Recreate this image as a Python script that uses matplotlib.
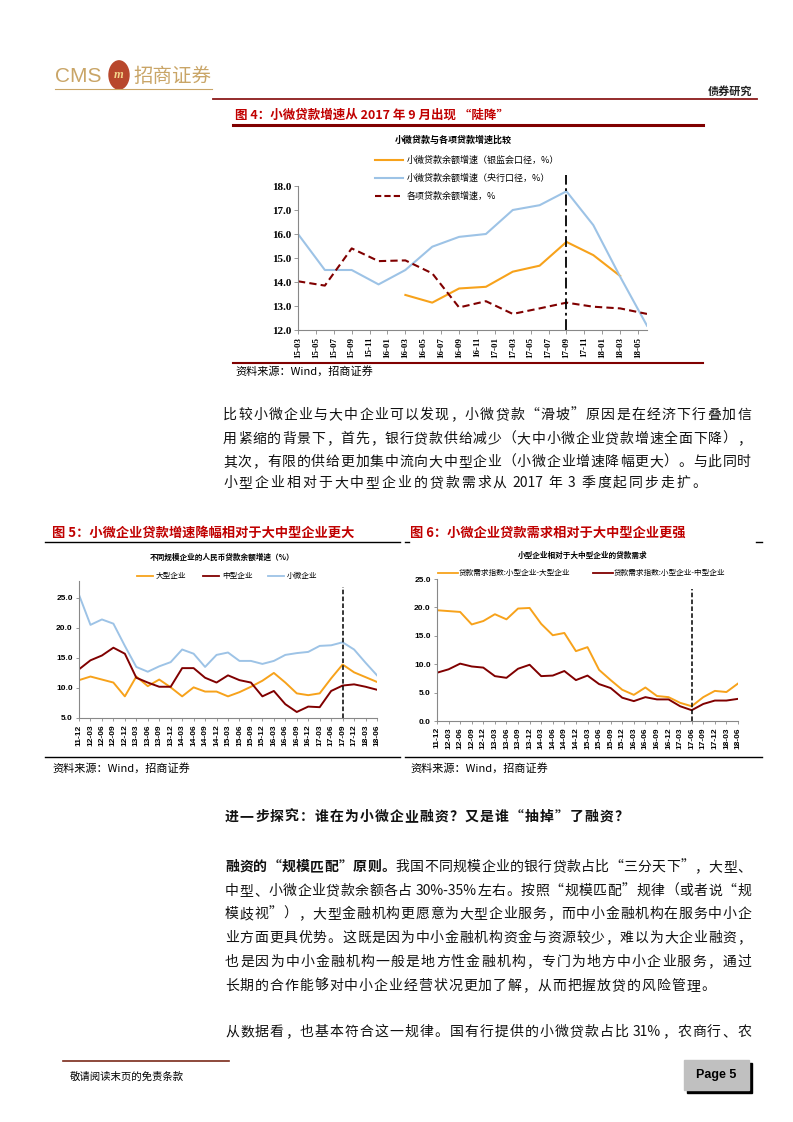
import matplotlib
matplotlib.use("Agg")
import matplotlib.pyplot as plt
import numpy as np
from matplotlib.patches import Rectangle, Circle
from matplotlib.lines import Line2D

plt.rcParams["font.family"] = ["Noto Sans CJK SC", "DejaVu Sans"]

W, H = 793, 1122

# ---------------- data: figure 4 ----------------
f4_quarters = ["15-03", "15-06", "15-09", "15-12", "16-03", "16-06", "16-09",
               "16-12", "17-03", "17-06", "17-09", "17-12", "18-03", "18-06"]
f4_ticklabels = ["15-03", "15-05", "15-07", "15-09", "15-11", "16-01", "16-03",
                 "16-05", "16-07", "16-09", "16-11", "17-01", "17-03", "17-05",
                 "17-07", "17-09", "17-11", "18-01", "18-03", "18-05"]
f4_cbrc = [np.nan, np.nan, np.nan, np.nan, 13.46, 13.14, 13.73, 13.80, 14.43,
           14.68, 15.67, 15.12, 14.25, np.nan]
f4_pboc = [16.0, 14.5, 14.5, 13.9, 14.5, 15.47, 15.88, 16.0, 17.0, 17.2,
           17.78, 16.37, 14.22, 12.18]
f4_total = [14.03, 13.85, 15.4, 14.87, 14.9, 14.36, 12.94, 13.2, 12.67, 12.9,
            13.14, 12.97, 12.9, 12.67]
f4_legend = ["小微贷款余额增速（银监会口径，%）", "小微贷款余额增速（央行口径，%）",
             "各项贷款余额增速，%"]

# ---------------- data: figures 5 / 6 ----------------
quarters = ["11-12", "12-03", "12-06", "12-09", "12-12", "13-03", "13-06",
            "13-09", "13-12", "14-03", "14-06", "14-09", "14-12", "15-03",
            "15-06", "15-09", "15-12", "16-03", "16-06", "16-09", "16-12",
            "17-03", "17-06", "17-09", "17-12", "18-03", "18-06"]
f5_large = [11.3, 11.9, 11.4, 10.9, 8.6, 11.9, 10.3, 11.4, 10.1, 8.6, 10.1,
            9.4, 9.4, 8.6, 9.3, 10.2, 11.2, 12.5, 10.9, 9.1, 8.8, 9.1, 11.6,
            13.9, 12.6, 11.8, 11.0]
f5_medium = [13.1, 14.6, 15.4, 16.7, 15.7, 11.7, 10.9, 10.2, 10.2, 13.3, 13.3,
             11.7, 10.9, 12.1, 11.3, 10.9, 8.6, 9.5, 7.3, 6.0, 6.9, 6.8, 9.5,
             10.4, 10.6, 10.2, 9.7]
f5_small = [25.5, 20.5, 21.4, 20.7, 17.0, 13.5, 12.7, 13.6, 14.3, 16.4, 15.7,
            13.5, 15.5, 15.9, 14.5, 14.5, 14.0, 14.5, 15.5, 15.8, 16.0, 17.0,
            17.1, 17.6, 16.4, 14.2, 12.1]
f5_legend = ["大型企业", "中型企业", "小微企业"]

f6_small_large = [19.5, 19.35, 19.2, 17.0, 17.6, 18.8, 17.9, 19.8, 19.9, 17.1,
                  15.1, 15.5, 12.3, 13.0, 9.0, 7.2, 5.5, 4.6, 5.9, 4.4, 4.2,
                  3.2, 2.6, 4.2, 5.3, 5.1, 6.6]
f6_small_medium = [8.5, 9.1, 10.1, 9.6, 9.4, 7.9, 7.6, 9.2, 9.9, 7.9, 8.0, 8.8,
                   7.2, 8.0, 6.5, 5.8, 4.1, 3.5, 4.2, 3.8, 3.8, 2.6, 1.9, 3.0,
                   3.6, 3.6, 3.9]
f6_legend = ["贷款需求指数:小型企业-大型企业", "贷款需求指数:小型企业-中型企业"]

# ---------------- text ----------------
para1 = ["比较小微企业与大中企业可以发现，小微贷款“滑坡”原因是在经济下行叠加信",
         "用紧缩的背景下，首先，银行贷款供给减少（大中小微企业贷款增速全面下降），",
         "其次，有限的供给更加集中流向大中型企业（小微企业增速降幅更大）。与此同时",
         "小型企业相对于大中型企业的贷款需求从 2017 年 3 季度起同步走扩。"]
heading = "进一步探究：谁在为小微企业融资？又是谁“抽掉”了融资？"
para2_lead = "融资的“规模匹配”原则。"
para2 = ["我国不同规模企业的银行贷款占比“三分天下”，大型、",
         "中型、小微企业贷款余额各占 30%-35%左右。按照“规模匹配”规律（或者说“规",
         "模歧视”），大型金融机构更愿意为大型企业服务，而中小金融机构在服务中小企",
         "业方面更具优势。这既是因为中小金融机构资金与资源较少，难以为大企业融资，",
         "也是因为中小金融机构一般是地方性金融机构，专门为地方中小企业服务，通过",
         "长期的合作能够对中小企业经营状况更加了解，从而把握放贷的风险管理。"]
para3 = "从数据看，也基本符合这一规律。国有行提供的小微贷款占比 31%，农商行、农"

ORANGE = "#F7A21B"
BLUE = "#9DC3E6"
DRED = "#800000"
TRED = "#C00000"
GOLD = "#C9A567"

fig = plt.figure(figsize=(W / 100, H / 100), dpi=100)


def fx(x):
    return x / W


def fy(y):
    return 1 - y / H


def px_axes(x0, y0, x1, y1):
    return fig.add_axes([fx(x0), fy(y1), fx(x1) - fx(x0), fy(y0) - fy(y1)])


def hline(x0, x1, y, color, lw):
    fig.add_artist(Line2D([fx(x0), fx(x1)], [fy(y), fy(y)], color=color, lw=lw))


renderer = fig.canvas.get_renderer()
SPACE = 3.5


def tokenize(s):
    # CJK chars one by one, ASCII runs together, spaces as None
    toks, buf = [], ""
    for ch in s:
        if ord(ch) < 128:
            if ch == " ":
                if buf:
                    toks.append(buf)
                    buf = ""
                toks.append(None)
            else:
                buf += ch
        else:
            if buf:
                toks.append(buf)
                buf = ""
            toks.append(ch)
    if buf:
        toks.append(buf)
    return toks


def justify(y, parts, x0, x1=None, size=10, gap=None):
    """parts: list of (string, weight)"""
    items = []
    for s, wt in parts:
        for t in tokenize(s):
            if t is None:
                items.append(None)
            else:
                items.append(fig.text(fx(x0), fy(y), t, fontsize=size, weight=wt,
                                      va="center", ha="left", color="#111111"))
    widths = [SPACE if t is None else t.get_window_extent(renderer).width
              for t in items]
    n_real = sum(1 for t in items if t is not None)
    if gap is None:
        gap = (x1 - x0 - sum(widths)) / (n_real - 1)
    x = x0
    for t, w in zip(items, widths):
        if t is None:
            x += w
            continue
        t.set_x(fx(x))
        x += w + gap


# ---------------- header ----------------
fig.text(fx(55), fy(76), "CMS", fontsize=15, color=GOLD, family="Liberation Sans",
         va="center", ha="left")
fig.add_artist(Circle((fx(119), fy(75)), 10 / W, transform=fig.transFigure,
                      color="#B8472C"))
fig.text(fx(119), fy(75), "m", fontsize=9, color="#F2D48A", weight="bold",
         ha="center", va="center", style="italic", family="Liberation Serif")
fig.text(fx(133), fy(76), "招商证券", fontsize=14, color=GOLD, va="center", ha="left")
hline(55, 212, 89, GOLD, 0.8)
fig.text(fx(752), fy(91), "债券研究", fontsize=8, weight="bold", ha="right",
         va="center", color="#222222")
hline(213, 757, 99, "#8B1A1A", 1.3)

# ---------------- figure 4 ----------------
fig.text(fx(235), fy(115), "图 4：小微贷款增速从 2017 年 9 月出现 “陡降”",
         fontsize=9, weight="bold", color=TRED, va="center")
hline(233, 703, 125, DRED, 2.2)
fig.text(fx(453), fy(140), "小微贷款与各项贷款增速比较", fontsize=6.5,
         weight="bold", ha="center", va="center")

ax1 = px_axes(298, 186, 647, 330)
m_idx = {}
for i, lab in enumerate(f4_ticklabels):
    m_idx[lab] = 2 * i
q_x = [int(q[:2]) * 12 + int(q[3:]) - (15 * 12 + 3) for q in f4_quarters]
ax1.plot(q_x, f4_cbrc, color=ORANGE, lw=1.5)
ax1.plot(q_x, f4_pboc, color=BLUE, lw=1.5)
ax1.plot(q_x, f4_total, color=DRED, lw=1.5, ls=(0, (3.5, 2)))
ax1.plot([30, 30], [12, 18.45], color="black", lw=1.3, ls=(0, (6, 2, 1.5, 2)),
         clip_on=False)
ax1.set_xlim(0, 39)
ax1.set_ylim(12, 18)
ax1.set_yticks(np.arange(12, 18.01, 1))
ax1.set_yticklabels([f"{v:.1f}" for v in np.arange(12, 18.01, 1)],
                    family="Liberation Serif", fontsize=8, weight="bold")
ax1.set_xticks([m_idx[l] for l in f4_ticklabels])
ax1.set_xticklabels(f4_ticklabels, rotation=90, family="Liberation Serif",
                    fontsize=6.5, weight="bold")
ax1.tick_params(length=3, width=0.6, color="#888888", pad=2)
for s in ["top", "right"]:
    ax1.spines[s].set_visible(False)
for s in ["left", "bottom"]:
    ax1.spines[s].set_color("#888888")
    ax1.spines[s].set_linewidth(0.8)

leg_y = [160, 178, 196]
leg_c = [ORANGE, BLUE, DRED]
leg_ls = ["-", "-", (0, (3, 1.5))]
for yy, c, ls, lab in zip(leg_y, leg_c, leg_ls, f4_legend):
    fig.add_artist(Line2D([fx(375), fx(403)], [fy(yy), fy(yy)], color=c, lw=1.5, ls=ls))
    fig.text(fx(407), fy(yy), lab, fontsize=6.5, va="center", ha="left")

hline(233, 703, 363, DRED, 1.5)
fig.text(fx(235), fy(371), "资料来源：Wind，招商证券", fontsize=8, va="center")

# ---------------- paragraph 1 ----------------
p1_y = [415, 439, 462, 483]
for i, (yy, line) in enumerate(zip(p1_y, para1)):
    if i < len(para1) - 1:
        justify(yy, [(line, "normal")], 223, 751, size=10)
    else:
        justify(yy, [(line, "normal")], 223, size=10, gap=2.0)

# ---------------- figure 5 ----------------
fig.text(fx(52), fy(533), "图 5：小微企业贷款增速降幅相对于大中型企业更大",
         fontsize=9.5, weight="bold", color=TRED, va="center")
hline(45, 400, 542, "black", 1.0)
fig.text(fx(222), fy(557), "不同规模企业的人民币贷款余额增速（%）", fontsize=5.5,
         weight="bold", ha="center", va="center")
for x0, c, lab in zip([137, 203, 268], [ORANGE, DRED, BLUE], f5_legend):
    fig.add_artist(Line2D([fx(x0), fx(x0 + 16)], [fy(576), fy(576)], color=c, lw=1.3))
    fig.text(fx(x0 + 19), fy(576), lab, fontsize=5.5, va="center", ha="left")

ax5 = px_axes(79, 581, 377, 718)
xq = np.arange(len(quarters))
ax5.plot(xq, f5_small, color=BLUE, lw=1.4)
ax5.plot(xq, f5_large, color=ORANGE, lw=1.4)
ax5.plot(xq, f5_medium, color=DRED, lw=1.4)
ax5.plot([23, 23], [5, 26.8], color="black", lw=1.1, ls=(0, (3, 1.5)))
ax5.set_xlim(0, 26)
ax5.set_ylim(5, 27.8)
ax5.set_yticks([5, 10, 15, 20, 25])
ax5.set_yticklabels(["5.0", "10.0", "15.0", "20.0", "25.0"],
                    family="Liberation Sans", fontsize=6, weight="bold")
ax5.set_xticks(xq)
ax5.set_xticklabels(quarters, rotation=90, family="Liberation Sans", fontsize=6,
                    weight="bold")
ax5.tick_params(length=2.5, width=0.6, color="#888888", pad=2)
for s in ["top", "right"]:
    ax5.spines[s].set_visible(False)
for s in ["left", "bottom"]:
    ax5.spines[s].set_color("#888888")
    ax5.spines[s].set_linewidth(0.8)
hline(45, 400, 757, "black", 1.0)
fig.text(fx(52), fy(768), "资料来源：Wind，招商证券", fontsize=8, va="center")

# ---------------- figure 6 ----------------
fig.text(fx(410), fy(533), "图 6：小微企业贷款需求相对于大中型企业更强",
         fontsize=9.5, weight="bold", color=TRED, va="center")
hline(405, 409, 542, "black", 1.0)
hline(756, 762, 542, "black", 1.0)
fig.text(fx(583), fy(555), "小型企业相对于大中型企业的贷款需求", fontsize=5.5,
         weight="bold", ha="center", va="center")
for x0, c, lab in zip([438, 593], [ORANGE, DRED], f6_legend):
    fig.add_artist(Line2D([fx(x0), fx(x0 + 20)], [fy(573), fy(573)], color=c, lw=1.3))
    fig.text(fx(x0 + 21), fy(573), lab, fontsize=5.5, va="center", ha="left")

ax6 = px_axes(437, 579, 738, 721)
ax6.plot(xq, f6_small_large, color=ORANGE, lw=1.4)
ax6.plot(xq, f6_small_medium, color=DRED, lw=1.4)
ax6.plot([22, 22], [0, 23.2], color="black", lw=1.1, ls=(0, (3, 1.5)))
ax6.set_xlim(0, 26)
ax6.set_ylim(0, 25)
ax6.set_yticks([0, 5, 10, 15, 20, 25])
ax6.set_yticklabels(["0.0", "5.0", "10.0", "15.0", "20.0", "25.0"],
                    family="Liberation Sans", fontsize=6, weight="bold")
ax6.set_xticks(xq)
ax6.set_xticklabels(quarters, rotation=90, family="Liberation Sans", fontsize=6,
                    weight="bold")
ax6.tick_params(length=2.5, width=0.6, color="#888888", pad=2)
for s in ["top", "right"]:
    ax6.spines[s].set_visible(False)
for s in ["left", "bottom"]:
    ax6.spines[s].set_color("#888888")
    ax6.spines[s].set_linewidth(0.8)
hline(405, 762, 757, "black", 1.0)
fig.text(fx(410), fy(768), "资料来源：Wind，招商证券", fontsize=8, va="center")

# ---------------- section text ----------------
justify(817, [(heading, "bold")], 225, size=10, gap=1.1)
p2_y = [867, 891, 914, 938, 962, 986]
for i, (yy, line) in enumerate(zip(p2_y, para2)):
    parts = [(line, "normal")]
    if i == 0:
        parts = [(para2_lead, "bold")] + parts
    if i < len(para2) - 1:
        justify(yy, parts, 225, 751, size=10)
    else:
        justify(yy, parts, 225, size=10, gap=1.0)
justify(1032, [(para3, "normal")], 225, 751, size=10)

# ---------------- footer ----------------
hline(63, 229, 1061, "#7A2A1A", 1.2)
fig.text(fx(70), fy(1077), "敬请阅读末页的免责条款", fontsize=7.5, va="center")
fig.add_artist(Rectangle((fx(687), fy(1093)), fx(752) - fx(687), fy(1063) - fy(1093),
                         transform=fig.transFigure, color="black"))
fig.add_artist(Rectangle((fx(684), fy(1090)), fx(749) - fx(684), fy(1060) - fy(1090),
                         transform=fig.transFigure, color="#C0C0C0"))
fig.text(fx(716), fy(1075), "Page 5", fontsize=9, weight="bold",
         family="Liberation Sans", ha="center", va="center")

fig.savefig("out.png", dpi=100)
